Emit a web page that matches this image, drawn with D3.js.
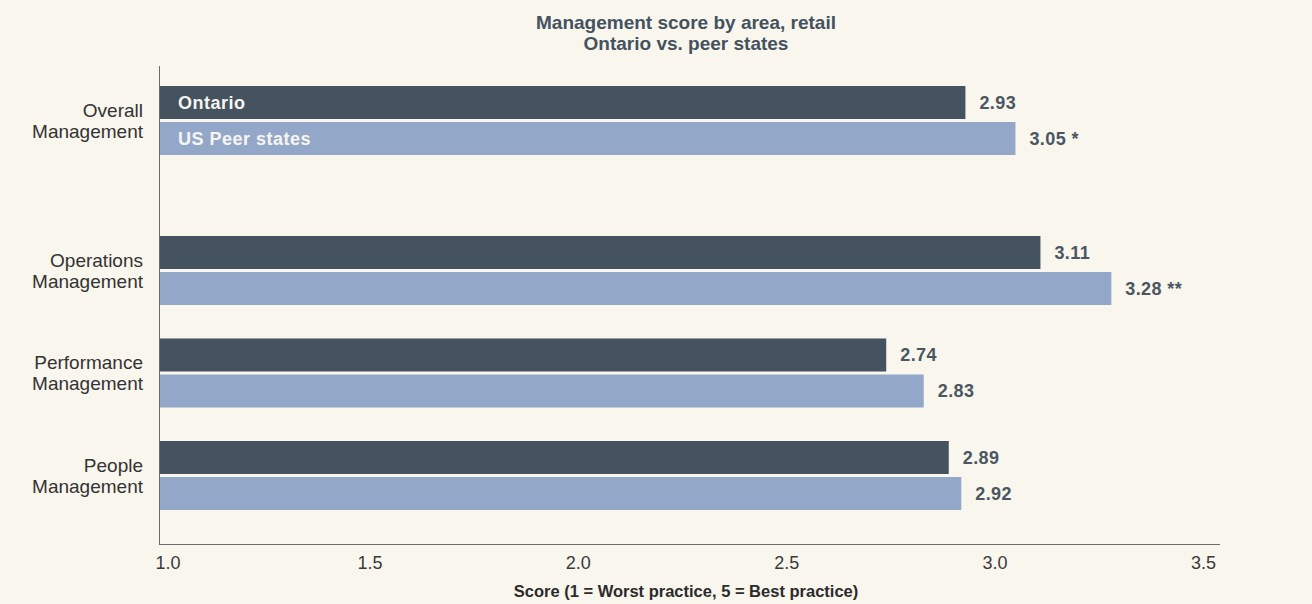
<!DOCTYPE html>
<html>
<head>
<meta charset="utf-8">
<script src="https://cdn.jsdelivr.net/npm/d3@7"></script>
<style>
    body { margin: 0; background: #f9f6ee; }
    svg { display: block; font-family: "Liberation Sans", Arial, sans-serif; }
</style>
</head>
<body>
<div id="chart"></div>
<script>
// chart data
var categories = ["Overall Management", "Operations Management", "Performance Management", "People Management"];
var series = ["Ontario", "US Peer states"];
var ontario = [2.93, 3.11, 2.74, 2.89];
var peers = [3.05, 3.28, 2.83, 2.92];
var peerNotes = [" *", " **", "", ""];
var xTicks = [1.0, 1.5, 2.0, 2.5, 3.0, 3.5];

var width = 1312, height = 604;
var colors = {"Ontario": "#44535f", "US Peer states": "#93a8c9"};

var svg = d3.select("#chart").append("svg")
    .attr("width", width)
    .attr("height", height);

// scales
var x = d3.scaleLinear().domain([1, 3.5]).range([161, 1203]);

var step = 102.5, groupH = 69, leadGap = 47.5;
var y = d3.scaleBand()
    .domain(categories)
    .range([86, 86 + step * (categories.length - 1) + groupH])
    .paddingInner((step - groupH) / step)
    .paddingOuter(0);
var ySub = d3.scaleBand().domain(series).range([0, groupH]).paddingInner(3 / 36);

function groupY(c, i) { return y(c) + (i === 0 ? 0 : leadGap); }

var rows = [];
categories.forEach(function(c, i) {
    rows.push({cat: c, i: i, s: series[0], v: ontario[i], note: ""});
    rows.push({cat: c, i: i, s: series[1], v: peers[i], note: peerNotes[i]});
});

// title
svg.append("text")
    .attr("x", 686).attr("y", 29)
    .attr("text-anchor", "middle")
    .attr("fill", "#44525e")
    .style("font-size", "19px").style("font-weight", "bold")
    .text("Management score by area, retail");
svg.append("text")
    .attr("x", 686).attr("y", 50)
    .attr("text-anchor", "middle")
    .attr("fill", "#44525e")
    .style("font-size", "19px").style("font-weight", "bold")
    .text("Ontario vs. peer states");

// bars
svg.selectAll(".bar")
    .data(rows)
    .enter().append("rect")
    .attr("class", "bar")
    .attr("x", x(1) - 1)
    .attr("y", function(d) { return groupY(d.cat, d.i) + ySub(d.s); })
    .attr("width", function(d) { return x(d.v) - x(1) + 1; })
    .attr("height", ySub.bandwidth())
    .attr("fill", function(d) { return colors[d.s]; });

// value labels
svg.selectAll(".val")
    .data(rows)
    .enter().append("text")
    .attr("class", "val")
    .attr("x", function(d) { return x(d.v) + 14; })
    .attr("y", function(d) { return groupY(d.cat, d.i) + ySub(d.s) + ySub.bandwidth() / 2 + 6; })
    .attr("fill", "#4a5661")
    .style("font-size", "18px").style("font-weight", "bold")
    .style("letter-spacing", "0.4px")
    .text(function(d) { return d.v.toFixed(2) + d.note; });

// series names inside the first group
svg.selectAll(".legend")
    .data(series)
    .enter().append("text")
    .attr("class", "legend")
    .attr("x", 178)
    .attr("y", function(s) { return groupY(categories[0], 0) + ySub(s) + ySub.bandwidth() / 2 + 6; })
    .attr("fill", "#f7f5ef")
    .style("font-size", "18px").style("font-weight", "bold")
    .style("letter-spacing", "0.5px")
    .text(function(s) { return s; });

// category labels
var cats = svg.selectAll(".cat")
    .data(categories)
    .enter().append("text")
    .attr("class", "cat")
    .attr("text-anchor", "end")
    .attr("fill", "#333")
    .style("font-size", "19px");
cats.each(function(c, i) {
    var mid = groupY(c, i) + groupH / 2;
    var words = c.split(" ");
    d3.select(this).selectAll("tspan")
        .data(words)
        .enter().append("tspan")
        .attr("x", 143)
        .attr("y", function(w, j) { return mid - 4 + j * 21; })
        .text(function(w) { return w; });
});

// x axis labels
var xAxis = svg.append("g")
    .attr("transform", "translate(0,544)")
    .call(d3.axisBottom(x).tickValues(xTicks).tickSize(0).tickPadding(12)
        .tickFormat(d3.format(".1f")));
xAxis.select(".domain").remove();
xAxis.selectAll("text")
    .attr("fill", "#3a3a3a")
    .style("font-size", "18px")
    .style("font-family", "'Liberation Sans', Arial, sans-serif");
xAxis.selectAll("text").filter(function(d) { return d === 1; })
    .attr("text-anchor", "start").attr("dx", -6);

// axis lines
svg.append("line")
    .attr("x1", 159.5).attr("x2", 159.5)
    .attr("y1", 66).attr("y2", 544.5)
    .attr("stroke", "#6b6b6b").attr("stroke-width", 1);
svg.append("line")
    .attr("x1", 159).attr("x2", 1220)
    .attr("y1", 544.5).attr("y2", 544.5)
    .attr("stroke", "#6b6b6b").attr("stroke-width", 1);

// axis title
svg.append("text")
    .attr("x", 686).attr("y", 597)
    .attr("text-anchor", "middle")
    .attr("fill", "#2b2b2b")
    .style("font-size", "16.5px").style("font-weight", "bold")
    .text("Score (1 = Worst practice, 5 = Best practice)");
</script>
</body>
</html>
